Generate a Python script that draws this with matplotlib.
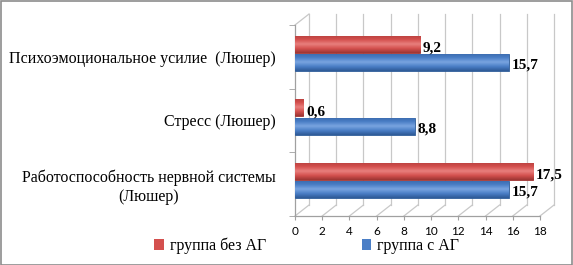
import matplotlib
matplotlib.use("Agg")
import matplotlib.pyplot as plt
from matplotlib.patches import Rectangle, Patch
from matplotlib.colors import LinearSegmentedColormap
import numpy as np

categories = ["Работоспособность нервной системы\n(Люшер)", "Стресс (Люшер)", "Психоэмоциональное усилие  (Люшер)"]
with_ag = [15.7, 8.8, 15.7]      # группа с АГ (blue)
without_ag = [17.5, 0.6, 9.2]    # группа без АГ (red)
xticks = [0, 2, 4, 6, 8, 10, 12, 14, 16, 18]
series_names = ["группа без АГ", "группа с АГ"]

RED = "#D4504E"
BLUE = "#4A7EC6"
SERIF = ["Liberation Serif", "DejaVu Serif"]

W, H = 573, 265
fig = plt.figure(figsize=(W / 100, H / 100), dpi=100)
ax = fig.add_axes([295 / W, 49 / H, 245 / W, 191 / H])

y = np.arange(len(categories))
ax.set_xlim(0, 18)
ax.set_ylim(-0.5, 2.5)

# 3D-like back wall grid
dx, dy = 14 / 13.6, 11 / 63.7
for xv in xticks:
    ax.plot([xv + dx, xv + dx], [-0.5 + dy, 2.5 + dy], color="#C8C8C8", lw=0.9, clip_on=False, zorder=0)
    ax.plot([xv, xv + dx], [-0.5, -0.5 + dy], color="#C8C8C8", lw=0.9, clip_on=False, zorder=0)
ax.plot([0, dx], [2.5, 2.5 + dy], color="#C8C8C8", lw=0.9, clip_on=False, zorder=0)

red_bars = ax.barh(y + 0.2, without_ag, height=0.27, color=RED, edgecolor="#9E3432", lw=0.6, zorder=3)
blue_bars = ax.barh(y - 0.09, with_ag, height=0.27, color=BLUE, edgecolor="#2F5C97", lw=0.6, zorder=3)

# cylinder-like shading
cm_red = LinearSegmentedColormap.from_list("r", ["#9C3533", "#D4504E", "#E8807E", "#D4504E", "#B8403E"])
cm_blue = LinearSegmentedColormap.from_list("b", ["#2E5A96", "#4A7EC6", "#7AA5E0", "#4A7EC6", "#3A69AC"])
grad = np.linspace(0, 1, 64).reshape(-1, 1)
for bars, cm in ((red_bars, cm_red), (blue_bars, cm_blue)):
    for p in bars:
        x0, y0, w, h = p.get_x(), p.get_y(), p.get_width(), p.get_height()
        im = ax.imshow(grad, cmap=cm, aspect="auto", extent=(x0, x0 + w, y0, y0 + h),
                       origin="lower", zorder=3.5, interpolation="bilinear")
        im.set_clip_path(p)
ax.set_xlim(0, 18)
ax.set_ylim(-0.5, 2.5)

for yi, v in zip(y, without_ag):
    ax.text(v + 0.2, yi + 0.14, f"{v:.1f}".replace(".", ","), ha="left", va="center",
            fontsize=11, fontweight="bold", family=SERIF, zorder=5)
for yi, v in zip(y, with_ag):
    ax.text(v + 0.2, yi - 0.13, f"{v:.1f}".replace(".", ","), ha="left", va="center",
            fontsize=11, fontweight="bold", family=SERIF, zorder=5)

for s in ["top", "right", "bottom"]:
    ax.spines[s].set_visible(False)
ax.spines["left"].set_color("#A0A0A0")
ax.spines["left"].set_linewidth(0.9)
ax.plot([0, 18], [-0.5, -0.5], color="#A0A0A0", lw=0.9, clip_on=False, zorder=1)

ax.set_xticks(xticks)
ax.set_xticklabels([str(t) for t in xticks], family="Lato", fontsize=8.5)
ax.tick_params(axis="x", length=3, color="#A0A0A0", pad=4)

ax.set_yticks(y)
ax.set_yticklabels(categories, family=SERIF, fontsize=11.5, multialignment="center")
ax.tick_params(axis="y", length=0, pad=14)
ax.set_yticks([-0.5, 0.5, 1.5, 2.5], minor=True)
ax.tick_params(axis="y", which="minor", length=4, color="#A0A0A0")

handles = [Patch(facecolor=RED, edgecolor="none"), Patch(facecolor=BLUE, edgecolor="none")]
fig.legend(handles, series_names, loc="center", bbox_to_anchor=(0.535, 0.072), ncol=2,
           frameon=False, prop={"family": SERIF, "size": 11.5}, handlelength=0.6, handleheight=0.6,
           handletextpad=0.35, columnspacing=6.0)

fig.patches.append(Rectangle((0.5 / W, 0.5 / H), 1 - 1.5 / W, 1 - 1.5 / H, transform=fig.transFigure,
                             fill=False, edgecolor="#8C8C8C", lw=1.2))

fig.savefig("out.png", dpi=100)
